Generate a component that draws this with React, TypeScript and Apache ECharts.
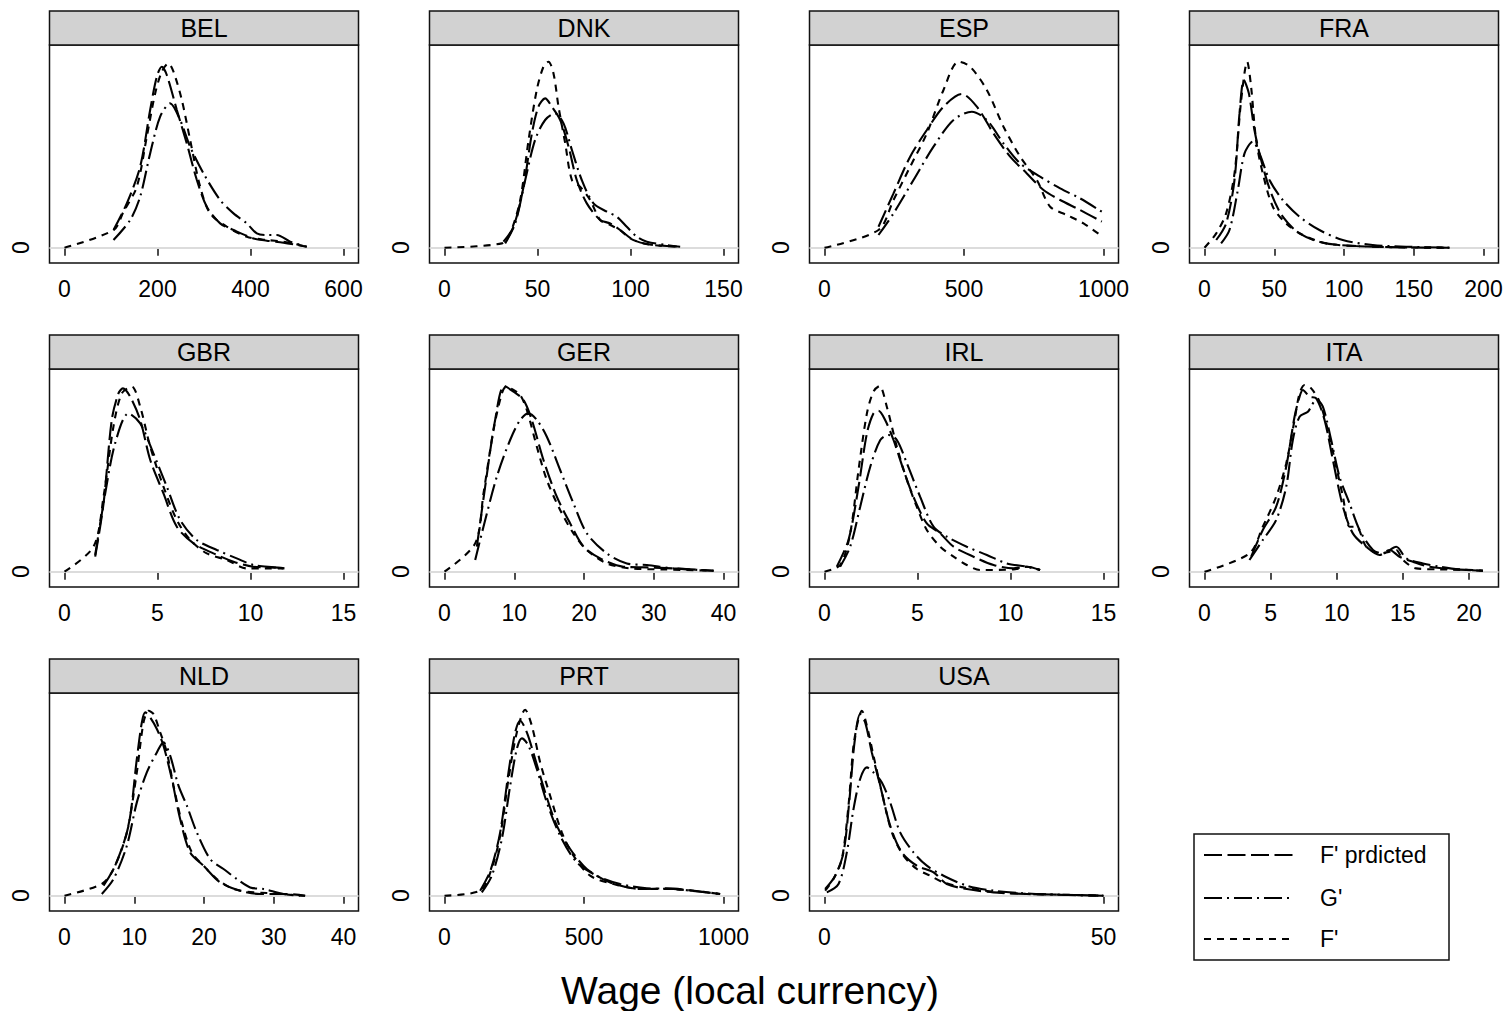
import { useEffect, useRef } from "react";
import * as echarts from "echarts";

const COUNTRIES = ["BEL", "DNK", "ESP", "FRA", "GBR", "GER", "IRL", "ITA", "NLD", "PRT", "USA"];
const X_RANGE_MAX = [600, 150, 1000, 200, 15, 40, 15, 21.1, 40, 1000, 50];
const X_TICKS = [
  [0, 200, 400, 600],
  [0, 50, 100, 150],
  [0, 500, 1000],
  [0, 50, 100, 150, 200],
  [0, 5, 10, 15],
  [0, 10, 20, 30, 40],
  [0, 5, 10, 15],
  [0, 5, 10, 15, 20],
  [0, 10, 20, 30, 40],
  [0, 500, 1000],
  [0, 50],
];
const SERIES_NAMES = ["F' prdicted", "G'", "F'"];
const X_TITLE = "Wage (local currency)";

// ---- BEL
const BEL_FP = [[105.4,0.177],[134,0.443],[162.7,0.81],[184.2,1.377],[198.5,1.71],[209.3,1.81],[220,1.727],[241.6,1.377],[263,1.043],[284.6,0.677],[306,0.41],[334.7,0.243],[363.4,0.177],[406.4,0.093],[435,0.07],[471,0.05],[521,0.01]];
const BEL_G = [[105.4,0.077],[141.2,0.277],[162.7,0.51],[184.2,0.943],[205.7,1.31],[227.2,1.443],[248.7,1.277],[270.2,1.01],[298.9,0.743],[334.7,0.477],[363.4,0.343],[392,0.243],[413.6,0.143],[435,0.127],[456.6,0.127],[485.3,0.06],[521,0.01]];
const BEL_F = [[0,0],[105.4,0.177],[126.9,0.36],[155.5,0.61],[177,1.11],[195,1.543],[209.3,1.76],[223.6,1.843],[234.4,1.76],[252.3,1.477],[270.2,1.077],[291.7,0.61],[313.2,0.343],[349,0.21],[392,0.11],[435,0.077],[471,0.06],[521,0.01]];
// ---- DNK
const DNK_FP = [[31.7,0.06],[37.1,0.21],[42.5,0.61],[47,1.143],[50.5,1.41],[54.1,1.493],[57.7,1.41],[62.2,1.277],[66.7,1.01],[71.1,0.677],[76.5,0.443],[83.7,0.277],[89.1,0.243],[94.4,0.177],[101.6,0.077],[108.8,0.037],[119.5,0.017],[126.7,0.01]];
const DNK_G = [[32.6,0.043],[38,0.243],[43.4,0.677],[48.7,1.077],[54.1,1.277],[59.5,1.343],[64,1.243],[68.5,0.977],[73.8,0.677],[80.1,0.443],[87.3,0.36],[92.6,0.31],[98,0.21],[103.4,0.11],[108.8,0.06],[119.5,0.027],[126.7,0.01]];
const DNK_F = [[0,0],[30.8,0.043],[35.3,0.143],[40.7,0.477],[45.2,1.077],[49.6,1.577],[53.2,1.81],[55.9,1.86],[58.6,1.743],[61.3,1.41],[64.9,1.043],[68.5,0.677],[72.9,0.61],[78.3,0.477],[83.7,0.277],[89.1,0.227],[94.4,0.177],[99.8,0.093],[107,0.043],[115.9,0.02],[126.7,0.01]];
// ---- ESP
const ESP_FP = [[193.5,0.21],[247.3,0.543],[307,0.91],[366.8,1.177],[426.5,1.41],[492.2,1.537],[546,1.41],[605.7,1.143],[665.4,0.91],[725.2,0.743],[784.9,0.577],[844.6,0.477],[916.3,0.377],[993.9,0.26]];
const ESP_G = [[193.5,0.127],[247.3,0.343],[319,0.677],[390.7,1.01],[462.3,1.277],[528,1.36],[581.8,1.277],[641.6,1.043],[701.3,0.843],[772.9,0.71],[844.6,0.593],[916.3,0.493],[993.9,0.36]];
const ESP_F = [[0,0],[193.5,0.177],[247.3,0.477],[307,0.81],[366.8,1.143],[426.5,1.577],[480.3,1.86],[522.1,1.81],[581.8,1.577],[641.6,1.21],[701.3,0.91],[761,0.677],[808.8,0.41],[868.5,0.327],[928.3,0.243],[988,0.127]];
// ---- FRA
const FRA_FP = [[8.4,0.077],[15.5,0.243],[21.5,0.677],[25.1,1.343],[28.2,1.677],[31.8,1.543],[35.8,1.177],[40.6,0.877],[47.8,0.543],[56.1,0.31],[68.1,0.143],[84.8,0.05],[108.7,0.017],[144.5,0.003],[175.6,0]];
const FRA_G = [[11.9,0.043],[17.9,0.177],[23.9,0.577],[28.7,0.943],[34.6,1.06],[39.4,0.943],[46.6,0.677],[56.1,0.477],[68.1,0.31],[82.4,0.177],[99.1,0.077],[120.6,0.027],[144.5,0.01],[175.6,0]];
const FRA_F = [[0,0],[8.4,0.143],[15.5,0.343],[21.5,0.743],[26.3,1.477],[30.6,1.86],[33.4,1.61],[37,1.077],[41.8,0.743],[49,0.41],[58.5,0.243],[70.5,0.127],[87.2,0.043],[106.3,0.017],[144.5,0.003],[175.6,0]];
// ---- GBR
const GBR_FP = [[1.65,0.15],[2.1,0.683],[2.54,1.517],[2.9,1.783],[3.14,1.833],[3.53,1.75],[4.07,1.517],[4.61,1.117],[5.32,0.783],[6.04,0.45],[6.94,0.283],[8.01,0.183],[9.09,0.1],[10.16,0.05],[11.24,0.043],[11.86,0.033]];
const GBR_G = [[1.65,0.167],[2.19,0.783],[2.72,1.283],[3.44,1.583],[4.07,1.483],[4.78,1.183],[5.5,0.85],[6.22,0.517],[7.11,0.317],[8.19,0.217],[9.26,0.133],[10.16,0.067],[11.24,0.043],[11.86,0.033]];
const GBR_F = [[0,0],[1.56,0.25],[2.1,0.75],[2.63,1.45],[3.08,1.783],[3.62,1.85],[4.07,1.65],[4.61,1.25],[5.32,0.85],[6.04,0.517],[6.76,0.317],[7.65,0.183],[8.73,0.117],[9.8,0.033],[10.88,0.033],[11.77,0.033]];
// ---- GER
const GER_FP = [[4.64,0.25],[5.83,0.85],[7.26,1.517],[8.55,1.857],[9.89,1.8],[11.33,1.717],[12.52,1.517],[14.19,1.117],[16.1,0.75],[18.02,0.483],[19.93,0.25],[22.32,0.133],[25.66,0.05],[29.01,0.043],[32.83,0.033],[38.57,0.01]];
const GER_G = [[4.4,0.117],[5.59,0.45],[7.5,0.95],[9.41,1.317],[10.85,1.517],[12.04,1.583],[13.24,1.517],[14.67,1.35],[16.58,1.017],[18.49,0.683],[20.41,0.383],[23.27,0.183],[26.14,0.083],[29.01,0.067],[32.83,0.033],[38.57,0.01]];
const GER_F = [[0,0],[4.4,0.283],[5.59,0.783],[7.03,1.417],[8.22,1.783],[8.84,1.85],[9.89,1.817],[10.85,1.767],[11.8,1.617],[13.24,1.25],[14.67,0.917],[16.58,0.617],[18.49,0.383],[20.41,0.217],[23.27,0.083],[26.62,0.033],[31.4,0.023],[38.57,0.01]];
// ---- IRL
const IRL_FP = [[0.66,0.05],[1.29,0.317],[1.83,0.85],[2.28,1.383],[2.63,1.583],[2.9,1.61],[3.26,1.517],[3.71,1.317],[4.25,1.017],[4.78,0.75],[5.5,0.483],[6.22,0.383],[6.94,0.25],[8.01,0.15],[9.09,0.067],[10.16,0.033],[10.88,0.05],[11.59,0.017]];
const IRL_G = [[0.84,0.05],[1.38,0.25],[1.92,0.65],[2.46,1.05],[3.0,1.317],[3.44,1.367],[3.89,1.317],[4.43,1.083],[5.14,0.75],[5.86,0.45],[6.58,0.35],[7.65,0.25],[8.73,0.167],[9.8,0.083],[10.88,0.05],[11.59,0.017]];
const IRL_F = [[0,0],[0.84,0.067],[1.38,0.383],[1.83,1.017],[2.28,1.583],[2.63,1.8],[2.96,1.857],[3.35,1.65],[3.89,1.25],[4.43,0.917],[4.96,0.65],[5.5,0.417],[6.22,0.25],[6.94,0.15],[7.65,0.067],[8.37,0.017],[10.16,0.023],[10.88,0.05],[11.59,0.017]];
// ---- ITA
const ITA_FP = [[3.53,0.15],[4.41,0.417],[5.42,0.65],[6.18,1.05],[6.81,1.55],[7.19,1.75],[7.44,1.817],[7.94,1.75],[8.45,1.733],[9.08,1.517],[9.71,1.117],[10.47,0.65],[11.22,0.383],[12.23,0.25],[13.24,0.167],[14.0,0.217],[14.75,0.15],[15.76,0.1],[17.02,0.05],[19.04,0.023],[21.06,0.01]];
const ITA_G = [[3.4,0.117],[4.41,0.317],[5.42,0.517],[6.18,0.85],[6.68,1.317],[7.19,1.55],[7.82,1.6],[8.45,1.717],[8.95,1.65],[9.58,1.317],[10.21,0.95],[10.97,0.683],[11.73,0.417],[12.74,0.217],[13.49,0.183],[14.5,0.25],[15.26,0.133],[16.52,0.083],[17.78,0.05],[19.29,0.023],[21.06,0.01]];
const ITA_F = [[0,0],[3.4,0.183],[4.41,0.45],[5.42,0.75],[6.18,1.083],[6.81,1.517],[7.19,1.783],[7.57,1.867],[8.07,1.833],[8.7,1.7],[9.33,1.417],[9.96,1.05],[10.47,0.75],[10.97,0.45],[11.48,0.45],[12.23,0.25],[13.24,0.183],[14.0,0.2],[14.5,0.217],[15.01,0.117],[16.01,0.033],[17.78,0.023],[20.3,0.017],[21.06,0.01]];
// ---- NLD
const NLD_FP = [[5.59,0.1],[7.26,0.3],[9.18,0.7],[10.37,1.367],[11.09,1.733],[11.57,1.833],[12.28,1.783],[13.24,1.667],[14.19,1.5],[15.39,1.167],[16.58,0.767],[18.02,0.433],[19.93,0.3],[22.32,0.133],[25.19,0.05],[28.05,0.017],[31.88,0.017],[34.5,0]];
const NLD_G = [[5.35,0.017],[7.03,0.167],[8.94,0.5],[10.37,0.933],[11.8,1.233],[13.24,1.433],[14.19,1.533],[15.15,1.4],[16.34,1.1],[17.54,0.9],[18.97,0.633],[20.88,0.367],[22.8,0.267],[24.71,0.167],[26.62,0.083],[28.53,0.067],[31.4,0.017],[34.5,0]];
const NLD_F = [[0,0],[5.35,0.117],[7.03,0.267],[8.94,0.633],[10.37,1.233],[11.33,1.733],[12.04,1.85],[12.76,1.817],[13.72,1.633],[14.67,1.433],[15.63,1.1],[16.82,0.733],[18.26,0.433],[19.93,0.3],[21.84,0.167],[24.23,0.067],[27.1,0.033],[29.01,0.027],[33.79,0]];
// ---- PRT
const PRT_FP = [[127.8,0.05],[164.5,0.25],[199.5,0.633],[229.4,1.233],[253.3,1.633],[271.2,1.75],[295.1,1.633],[325,1.367],[360.8,1.033],[402.6,0.7],[450.4,0.467],[510.1,0.267],[593.8,0.133],[701.3,0.067],[796.9,0.073],[892.4,0.05],[988,0.017]];
const PRT_G = [[133.8,0.033],[169.6,0.2],[205.5,0.567],[235.4,1.1],[259.2,1.467],[277.2,1.573],[301.1,1.5],[330.9,1.267],[366.8,0.933],[414.6,0.6],[474.3,0.333],[546,0.2],[629.6,0.117],[725.2,0.073],[820.8,0.067],[916.3,0.04],[988,0.017]];
const PRT_F = [[0,0],[127.8,0.05],[164.5,0.233],[199.5,0.6],[229.4,1.167],[259.2,1.633],[289.1,1.86],[313,1.7],[342.9,1.333],[378.7,1.0],[420.5,0.633],[462.3,0.4],[522.1,0.2],[605.7,0.117],[701.3,0.067],[796.9,0.067],[892.4,0.05],[988,0.017]];
// ---- USA
const USA_FP = [[0.12,0.067],[1.91,0.2],[3.41,0.433],[4.48,0.967],[5.38,1.533],[6.39,1.817],[7.29,1.733],[8.48,1.433],[9.98,1.1],[11.77,0.7],[13.86,0.433],[16.55,0.3],[19.54,0.233],[21.92,0.117],[25.51,0.067],[30.29,0.033],[36.26,0.017],[42.24,0.01],[50,0]];
const USA_G = [[0.42,0.033],[2.51,0.117],[4.0,0.433],[5.2,0.867],[6.39,1.167],[7.59,1.283],[8.78,1.233],[10.28,1.133],[11.77,0.933],[13.56,0.633],[15.95,0.433],[18.34,0.3],[21.33,0.2],[25.51,0.1],[30.29,0.05],[36.26,0.023],[42.24,0.01],[50,0]];
const USA_F = [[0.12,0.05],[1.61,0.167],[3.11,0.367],[4.3,0.9],[5.2,1.5],[6.09,1.767],[6.69,1.85],[7.59,1.7],[8.78,1.4],[10.28,1.033],[12.07,0.633],[14.16,0.4],[16.55,0.267],[18.94,0.2],[21.33,0.133],[24.91,0.083],[30.29,0.04],[36.26,0.017],[42.24,0.01],[50,0]];

const FP_DATA = [BEL_FP, DNK_FP, ESP_FP, FRA_FP, GBR_FP, GER_FP, IRL_FP, ITA_FP, NLD_FP, PRT_FP, USA_FP];
const G_DATA = [BEL_G, DNK_G, ESP_G, FRA_G, GBR_G, GER_G, IRL_G, ITA_G, NLD_G, PRT_G, USA_G];
const F_DATA = [BEL_F, DNK_F, ESP_F, FRA_F, GBR_F, GER_F, IRL_F, ITA_F, NLD_F, PRT_F, USA_F];

const FONT = "'Liberation Sans', Arial, Helvetica, sans-serif";
const DASHES = [[18, 5.5], [18, 5, 2, 5], [7, 6]];
const LINE_W = 2.1;

function buildOption() {
  const grids: any[] = [];
  const xAxes: any[] = [];
  const yAxes: any[] = [];
  const series: any[] = [];
  const graphics: any[] = [];
  const PW = 309, PH = 218, HH = 34;
  COUNTRIES.forEach((name, i) => {
    const col = i % 4;
    const row = Math.floor(i / 4);
    const left = 49.5 + 380 * col;
    const top = 45 + 324 * row;
    grids.push({ left, top, width: PW, height: PH, show: true, borderColor: "#111", borderWidth: 1.5, backgroundColor: "#fff" });
    const R = X_RANGE_MAX[i];
    const pad = (R * 15) / 279;
    xAxes.push({
      type: "value", gridIndex: i, min: -pad, max: R + pad,
      axisLine: { show: false }, splitLine: { show: false },
      axisTick: { show: true, customValues: X_TICKS[i], length: 8, lineStyle: { color: "#111", width: 1.5 } },
      axisLabel: {
        show: true, customValues: X_TICKS[i], fontSize: 23, color: "#000", fontFamily: FONT, margin: 14,
        formatter: (v: number) => String(v),
      },
    });
    yAxes.push({
      type: "value", gridIndex: i, min: -0.153, max: 2.027,
      axisLine: { show: false }, splitLine: { show: false },
      axisTick: { show: true, customValues: [0], length: 9.5, lineStyle: { color: "#111", width: 1.5 } },
      axisLabel: {
        show: true, customValues: [0], rotate: 90, fontSize: 23, color: "#000", fontFamily: FONT, margin: 17,
        formatter: (v: number) => String(v),
      },
    });
    const datasets = [FP_DATA[i], G_DATA[i], F_DATA[i]];
    datasets.forEach((d, k) => {
      const s: any = {
        type: "line", name: SERIES_NAMES[k], xAxisIndex: i, yAxisIndex: i, data: d,
        showSymbol: false, symbol: "none", smooth: 0.3, z: 3,
        lineStyle: { color: "#000", width: LINE_W, type: DASHES[k] },
        itemStyle: { color: "#000" },
      };
      if (k === 0) {
        s.markLine = {
          silent: true, symbol: ["none", "none"], label: { show: false }, z: 1,
          lineStyle: { color: "#dcdcdc", width: 2, type: "solid" },
          data: [{ yAxis: 0 }],
        };
      }
      series.push(s);
    });
    graphics.push({
      type: "rect", shape: { x: left, y: top - HH, width: PW, height: HH },
      style: { fill: "#d2d2d2", stroke: "#111", lineWidth: 1.5 },
    });
    graphics.push({
      type: "text", x: left + PW / 2, y: top - HH / 2,
      style: { text: name, fill: "#000", font: `25px ${FONT}`, textAlign: "center", textVerticalAlign: "middle" },
    });
  });
  graphics.push({
    type: "text", x: 750, y: 990,
    style: { text: X_TITLE, fill: "#000", font: `39px ${FONT}`, textAlign: "center", textVerticalAlign: "middle" },
  });
  // legend box
  const LX = 1194, LY = 834, LW = 255, LH = 126;
  const rowsY = [855, 898, 939];
  graphics.push({
    type: "rect", shape: { x: LX, y: LY, width: LW, height: LH },
    style: { fill: "#fff", stroke: "#111", lineWidth: 1.5 },
  });
  SERIES_NAMES.forEach((nm, k) => {
    graphics.push({
      type: "line", shape: { x1: LX + 10, y1: rowsY[k], x2: LX + 99, y2: rowsY[k] },
      style: { stroke: "#000", lineWidth: LINE_W, lineDash: DASHES[k] },
    });
    graphics.push({
      type: "text", x: LX + 126, y: rowsY[k],
      style: { text: nm, fill: "#000", font: `23px ${FONT}`, textAlign: "left", textVerticalAlign: "middle" },
    });
  });
  return {
    animation: false,
    backgroundColor: "#fff",
    grid: grids,
    xAxis: xAxes,
    yAxis: yAxes,
    series,
    graphic: graphics,
  };
}

export default function App() {
  const ref = useRef<HTMLDivElement>(null);
  useEffect(() => {
    if (!ref.current) return;
    const chart = echarts.init(ref.current, null, { renderer: "svg" });
    chart.setOption(buildOption());
    return () => chart.dispose();
  }, []);
  return <div ref={ref} style={{ position: "absolute", left: 0, top: 0, width: 1506, height: 1011 }} />;
}
